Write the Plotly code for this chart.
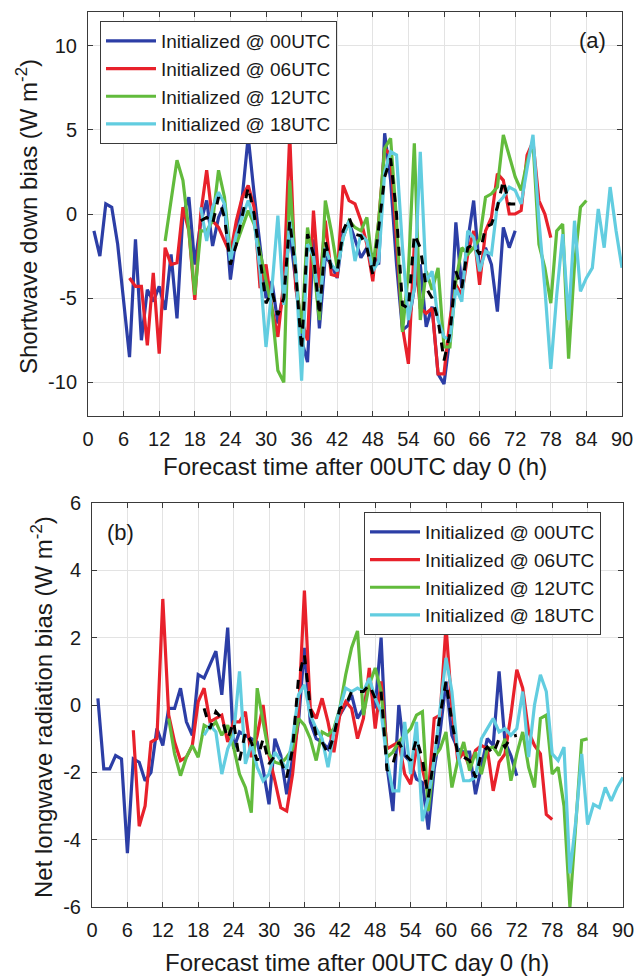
import plotly.graph_objects as go

# ---------------- data ----------------
labels = ["Initialized @ 00UTC", "Initialized @ 06UTC", "Initialized @ 12UTC", "Initialized @ 18UTC"]
starts = [1, 7, 13, 19]          # first forecast hour of each initialization
mean_start = 19
x_ticks = list(range(0, 91, 6))
y_ticks_a = [-10, -5, 0, 5, 10]
y_ticks_b = [-6, -4, -2, 0, 2, 4, 6]

# (a) Shortwave down bias
sw_00 = [-1.0, -2.5, 0.6, 0.4, -1.8, -5.0, -8.5, -1.5, -7.5, -4.5, -5.2, -4.3, -5.7, -2.4, -6.2, 0.0,
         1.0, -3.0, -0.5, 0.8, -1.9, -0.2, 0.6, -3.9, -1.2, 1.0, 4.6, 1.2, -2.0, -5.0, -4.0, -6.5,
         -4.5, -1.0, -4.0, -7.5, -8.8, -1.5, -6.8, -2.5, -3.0, -3.8, -1.0, -0.5, -1.5, -2.6, -2.0, -2.5,
         -3.0, 4.8, 2.0, -3.0, -6.9, -6.6, -4.4, -3.0, -6.7, -5.5, -9.5, -10.1, -7.3, -0.5, -4.4, -1.6,
         0.8, -3.4, -2.0, -3.0, -5.8, -0.8, -2.0, -1.0]
sw_06 = [-3.8, -4.3, -4.3, -7.8, -3.5, -8.3, -2.0, -3.0, -2.9, 0.4, -1.0, -5.1, 0.0, 2.6, -0.4, -0.8,
         -1.6, -2.4, -0.4, 1.0, 1.7, 0.4, -4.4, -3.0, -5.6, -7.3, -4.0, 4.7, -4.4, -6.3, -7.5, 0.2,
         -4.4, -0.4, -3.6, -3.7, 1.7, 0.8, 0.6, -0.4, -1.8, -4.0, -0.4, 3.9, 3.5, -1.4, -6.7, -8.9,
         -1.8, -5.6, -5.9, -5.6, -9.5, -9.5, -6.3, -4.2, -4.8, -2.4, -1.0, -4.2, -1.0, -0.2, 2.4, 2.0,
         0.0, 0.0, 0.2, 3.5, 4.3, 0.8, 0.0, -1.4]
sw_12 = [-1.6, 0.8, 3.2, 2.0, -1.0, -4.8, -1.0, -1.0, -0.4, 2.6, 1.0, -2.4, -1.8, -0.8, 0.2, -0.6,
         -2.2, -3.8, -5.6, -9.3, -10.0, 2.0, -3.4, -7.1, -0.8, -3.0, -6.3, 0.8, -1.0, -3.2, -1.4, -0.4,
         -0.8, -1.0, -0.2, -3.2, -0.4, 3.9, 4.5, -0.4, -7.0, -3.4, 4.2, -6.3, -3.4, -4.5, -3.2, -7.9,
         -7.9, -4.0, -2.0, -2.4, -2.0, -1.5, 1.0, 1.2, 1.6, 4.7, 3.5, 2.2, 1.4, 3.1, 4.3, -1.8,
         -3.2, -5.3, -1.0, -0.6, -8.6, -3.0, 0.4, 0.8]
sw_18 = [0.4, -1.6, 0.4, 1.3, 0.6, -2.8, -1.2, -0.2, 0.8, -0.4, -3.4, -7.9, -4.4, -0.1, -5.4, -0.4,
         -3.0, -9.9, -1.8, -2.5, -5.6, -2.0, -3.0, -3.4, -1.4, -0.4, -2.8, -1.2, -1.6, -3.4, -2.8, 2.5,
         3.7, 3.5, -2.0, -6.3, -4.4, 3.7, -4.0, -3.4, -6.3, -7.3, -7.5, -4.4, -5.2, -1.0, -1.4, -3.4,
         -2.2, -2.4, 0.6, 1.0, 1.6, 1.4, 0.6, 2.7, 4.7, -0.4, -4.4, -9.2, -4.8, -1.2, -6.3, -0.4,
         -4.6, -3.8, -3.2, 0.3, -2.0, 1.6, -1.0, -3.2]
sw_mean = [-0.4, -0.2, -0.6, 1.0, -0.2, -3.0, -1.8, -0.2, 1.6, 0.0, -2.8, -5.3, -4.6, -6.0, -5.0, -0.4,
           -3.4, -8.1, -1.2, -2.4, -6.0, -1.6, -3.2, -3.4, -1.0, -0.2, -1.2, -1.3, -2.0, -3.6, -0.8, 2.2,
           3.3, 0.0, -5.4, -5.6, -1.2, -2.0, -4.4, -5.0, -6.3, -8.7, -7.1, -3.4, -4.4, -2.0, -1.8, -2.4,
           -0.8, -0.6, 0.4, 2.0, 0.6, 0.6]

# (b) Net longwave radiation bias
lw_00 = [0.2, -1.9, -1.9, -1.5, -1.6, -4.4, -1.6, -1.7, -2.25, -2.0, -0.7, -1.2, -0.1, -0.1, 0.5, -0.5,
         -0.9, 0.9, 0.8, 1.2, 1.6, 0.3, 2.3, -1.3, -0.8, -0.9, -1.0, -1.1, -1.9, -2.95, -1.0, -1.5,
         -2.65, -1.5, -0.5, 1.7, -0.5, -1.0, -1.1, -1.3, -0.8, -0.3, 0.0, 0.3, -0.4, -0.1, 0.7, -0.1,
         2.0, -1.8, -3.15, 0.0, -1.5, -1.7, -2.2, -2.3, -3.7, -1.9, -0.8, 0.7, -0.9, -1.3, -1.4, -1.4,
         -2.65, -1.8, -1.0, -1.2, 1.0, -1.1, -1.5, -2.1]
lw_06 = [-0.75, -3.6, -3.0, -1.1, -1.0, 3.15, -0.3, -1.1, -1.65, -1.55, -1.2, 0.1, 0.5, -0.5, -0.4, -0.3,
         -1.1, -0.5, -0.5, -0.2, -1.55, -0.9, 0.0, -1.5, -2.25, -3.05, -3.15, -2.05, -0.3, 3.4, -0.1, -0.4,
         0.2, -0.5, -1.4, -0.3, 0.1, -0.1, -1.0, -0.4, 1.1, -0.7, 0.7, -1.3, -1.2, -1.1, -2.05, -2.35,
         -1.3, -1.9, -2.65, -0.4, -0.3, 2.35, -0.1, -1.65, -1.4, -1.85, -1.35, -1.2, -1.3, -2.55, -1.7, -1.45,
         -0.3, 1.05, 0.5, -0.8, -1.2, -1.45, -3.25, -3.4]
lw_12 = [-0.4, -1.45, -2.1, -1.55, -1.2, -1.55, -0.6, -0.7, -0.5, -0.9, -0.6, -1.25, -2.05, -2.45, -3.2, 0.5,
         -0.5, -1.45, -1.7, -1.75, -1.55, -1.3, -0.4, -0.6, -1.0, -1.65, -0.8, -0.9, -0.7, -0.1, 0.9, 1.7,
         2.2, -0.3, 0.6, 1.1, 0.4, -1.55, -1.4, -1.1, -0.9, -0.7, -0.3, -0.2, -3.15, -1.55, -1.3, -0.8,
         -2.45, -1.65, -1.1, -1.95, -1.4, -2.05, -1.3, -1.25, -1.5, -1.0, -2.25, -1.45, -0.8, -1.85, -2.45, -0.4,
         -0.3, -2.05, -1.85, -3.0, -6.0, -3.5, -1.05, -1.0]
lw_18 = [-0.9, -0.6, -0.8, -2.05, -1.3, -0.9, 1.0, -1.75, -1.15, -1.85, -2.25, -2.05, -1.4, -1.65, -1.9, -1.0,
         0.3, 0.6, -0.3, -0.7, -1.0, -1.85, -0.8, -0.1, 0.5, 0.4, 0.5, 0.4, 0.8, 0.2, -0.2, -1.65,
         -2.55, -2.55, -0.5, -2.05, -0.5, -3.45, -2.75, -1.65, -0.1, 1.4, 0.4, -1.45, -2.25, -2.25, -2.15, -1.0,
         -0.7, -0.4, -0.8, -0.7, -0.9, -0.7, 0.4, -1.55, 0.0, 0.9, 0.4, -1.45, -1.65, -1.25, -5.0, -3.45,
         -1.45, -3.55, -2.95, -3.05, -2.45, -2.85, -2.45, -2.15]
lw_mean = [-0.1, -0.7, -0.2, -0.4, -1.0, -0.5, -1.65, -0.8, -1.1, -1.65, -1.0, -1.75, -1.5, -1.65, -2.15, -1.3,
           0.8, 1.5, -0.1, -0.9, -1.1, -1.45, -0.9, -0.1, 0.0, 0.4, 0.4, 0.4, 0.6, 0.2, 0.4, -1.95,
           -1.75, -1.1, -1.45, -1.65, -1.0, -1.6, -2.75, -1.5, -0.3, 0.7, -0.5, -1.45, -1.55, -1.65, -2.15, -1.45,
           -1.25, -1.45, -1.0, -1.25, -0.95, -0.9]

# ---------------- style ----------------
colors = ["#2c3ea6", "#e8212b", "#62bb3c", "#62cde0"]
FONT = "Arial, Liberation Sans, sans-serif"
TXT = "#1a1a1a"
AX = "#3a3a3a"
GRID = "#e3e3e3"

fig = go.Figure()


def hours(start, n):
    return list(range(start, start + n))


panels = [
    ([sw_00, sw_06, sw_12, sw_18], sw_mean, "x", "y", "legend"),
    ([lw_00, lw_06, lw_12, lw_18], lw_mean, "x2", "y2", "legend2"),
]
for series, mean, xa, ya, lg in panels:
    for lab, s0, vals, col in zip(labels, starts, series, colors):
        fig.add_trace(go.Scatter(
            x=hours(s0, len(vals)), y=vals, mode="lines", name=lab,
            line=dict(color=col, width=3.2), xaxis=xa, yaxis=ya, legend=lg))
    fig.add_trace(go.Scatter(
        x=hours(mean_start, len(mean)), y=mean, mode="lines", showlegend=False,
        line=dict(color="black", width=3, dash="dash"), xaxis=xa, yaxis=ya))

W, H = 634, 976
axis_common = dict(showline=True, linecolor=AX, linewidth=1, mirror="ticks", ticks="inside",
                   ticklen=5, tickcolor=AX, showgrid=True, gridcolor=GRID, gridwidth=1,
                   zeroline=False, automargin=False,
                   tickfont=dict(family=FONT, size=20, color=TXT))
legend_common = dict(xanchor="left", yanchor="top", bgcolor="white", bordercolor=AX, borderwidth=1,
                     font=dict(family=FONT, size=19, color=TXT), tracegroupgap=0, itemwidth=50)


def note(text, x, y, size, angle=0):
    return dict(text=text, x=x / W, y=1 - y / H, xref="paper", yref="paper", showarrow=False,
                xanchor="center", yanchor="middle", textangle=angle,
                font=dict(family=FONT, size=size, color=TXT))


fig.update_layout(
    width=W, height=H,
    margin=dict(l=0, r=0, t=0, b=0),
    paper_bgcolor="white", plot_bgcolor="white",
    font=dict(family=FONT, color=TXT),
    xaxis=dict(domain=[88 / W, 622 / W], anchor="y", range=[0, 90], tickvals=x_ticks,
               ticklabelstandoff=5, ticklabeloverflow="allow", **axis_common),
    yaxis=dict(domain=[1 - 416 / H, 1 - 12 / H], anchor="x", range=[-12, 12],
               tickvals=y_ticks_a, ticktext=[str(v) for v in y_ticks_a],
               ticklabelstandoff=6, **axis_common),
    xaxis2=dict(domain=[92 / W, 623 / W], anchor="y2", range=[0, 90], tickvals=x_ticks,
                ticklabelstandoff=5, ticklabeloverflow="allow", **axis_common),
    yaxis2=dict(domain=[1 - 907 / H, 1 - 503 / H], anchor="x2", range=[-6, 6],
                tickvals=y_ticks_b, ticktext=[str(v) for v in y_ticks_b],
                ticklabelstandoff=6, **axis_common),
    legend=dict(x=100 / W, y=1 - 21 / H, **legend_common),
    legend2=dict(x=364 / W, y=1 - 512 / H, **legend_common),
    annotations=[
        note("(a)", 592, 40, 22),
        note("(b)", 120, 532, 22),
        note("Forecast time after 00UTC day 0 (h)", 355, 467, 24),
        note("Forecast time after 00UTC day 0 (h)", 357, 962, 24),
        note("Shortwave down bias (W m<sup>-2</sup>)", 27, 217, 24, -90),
        note("Net longwave radiation bias (W m<sup>-2</sup>)", 42, 707, 24, -90),
    ],
)

fig.write_html("out.html", config={"displayModeBar": False},
               post_script="document.body.style.margin='0px';")
